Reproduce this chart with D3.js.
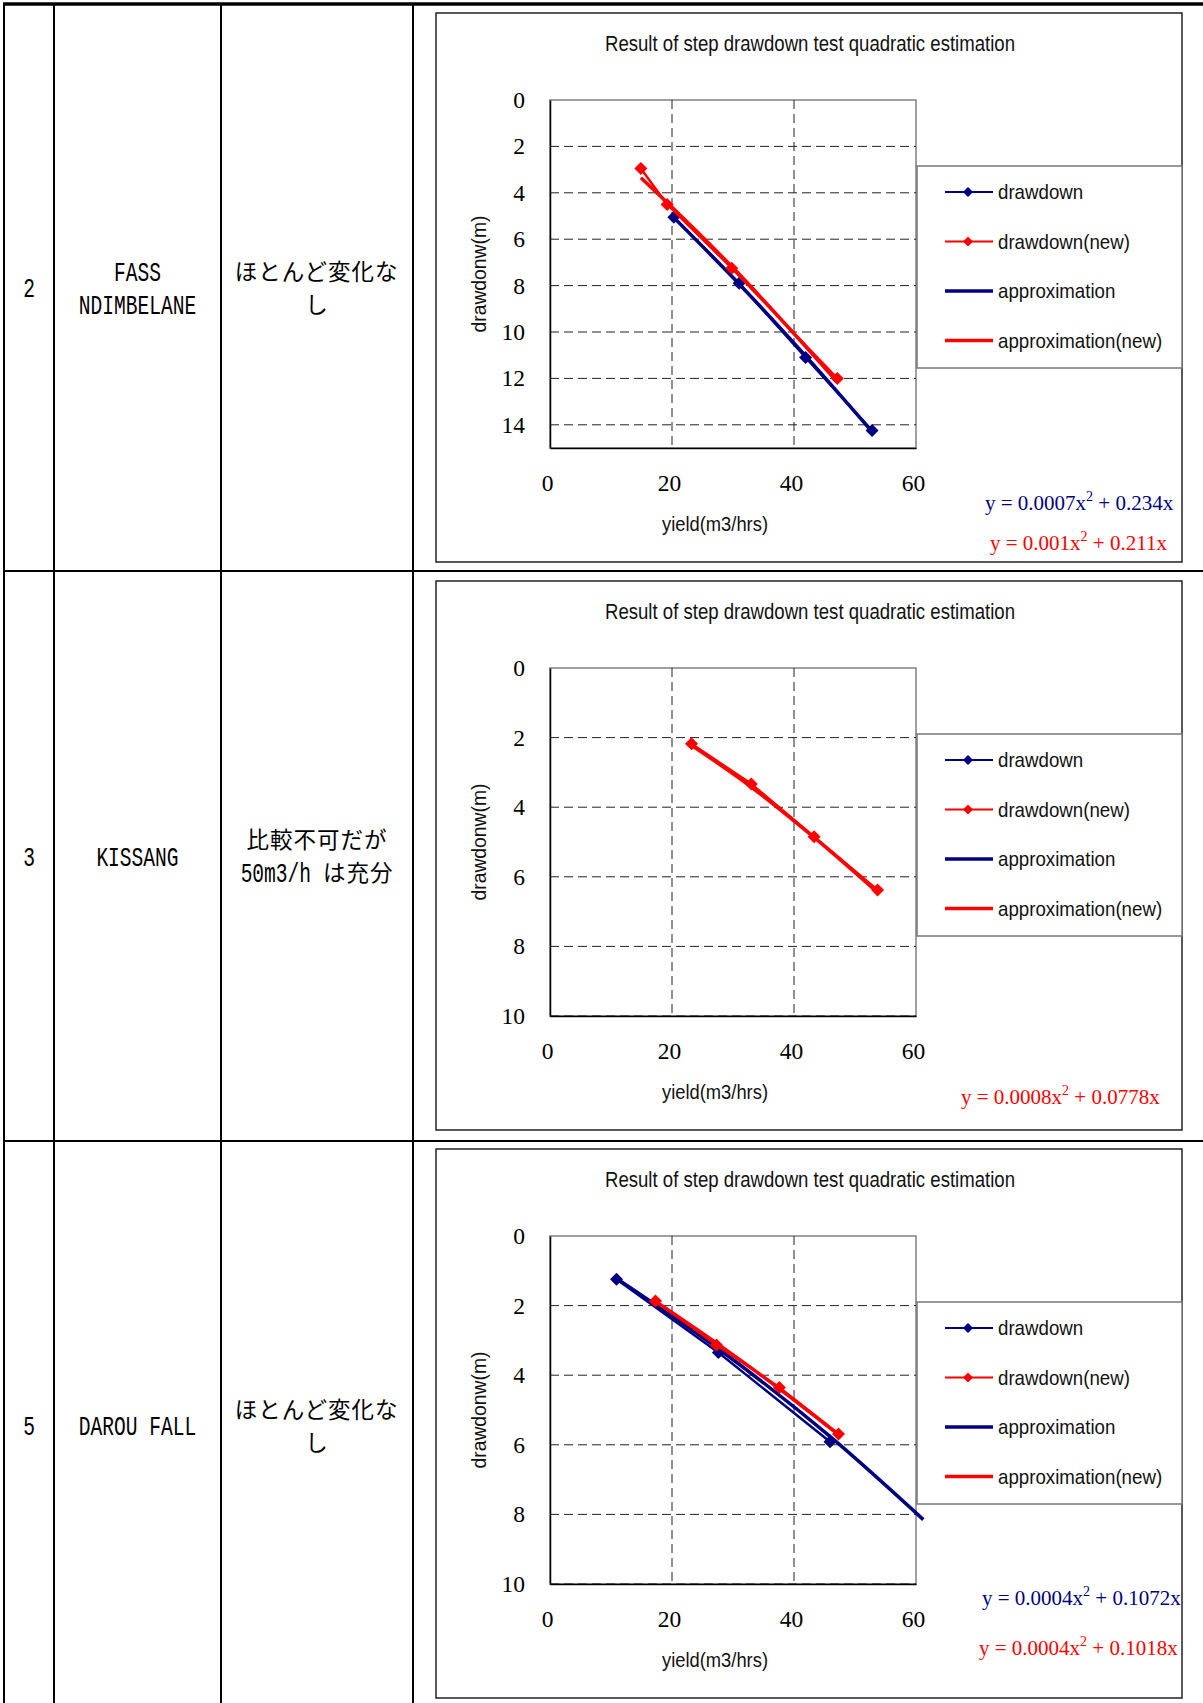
<!DOCTYPE html>
<html>
<head>
<meta charset="utf-8">
<script src="https://cdn.jsdelivr.net/npm/d3@7"></script>
<style>
  body { margin: 0; background: #fff; }
  svg { display: block; }
</style>
</head>
<body>
<div id="canvas"></div>
<script>
// ---- table cells ----
const wellNo = ["2", "3", "5"];
const wellName = [["FASS", "NDIMBELANE"], ["KISSANG"], ["DAROU FALL"]];
const remarks = [["ほとんど変化な", "し"], ["比較不可だが", "50m3/h は充分"], ["ほとんど変化な", "し"]];

// ---- chart common ----
const chartTitle = "Result of step drawdown test quadratic estimation";
const xTitle = "yield(m3/hrs)";
const yTitle = "drawdonw(m)";
const legendNames = ["drawdown", "drawdown(new)", "approximation", "approximation(new)"];
const xTicks = [0, 20, 40, 60];

// ---- FASS NDIMBELANE ----
const fassYield = [20.3, 31.0, 41.9, 52.8];
const fassDrawdown = [5.05, 7.9, 11.1, 14.25];
const fassApprox = [5.07, 7.93, 11.03, 14.3];
const fassYieldNew = [14.9, 19.2, 29.8, 47.1];
const fassDrawdownNew = [2.95, 4.5, 7.25, 12.0];
const fassApproxNew = [3.35, 4.42, 7.18, 12.15];
const fassYTicks = [0, 2, 4, 6, 8, 10, 12, 14];
const fassEquations = [["y = 0.0007x", "2", " + 0.234x"], ["y = 0.001x", "2", " + 0.211x"]];

// ---- KISSANG ----
const kissYieldNew = [23.2, 33.0, 43.3, 53.7];
const kissDrawdownNew = [2.18, 3.33, 4.85, 6.38];
const kissApproxNew = [2.22, 3.42, 4.87, 6.45];
const kissYTicks = [0, 2, 4, 6, 8, 10];
const kissEquations = [["y = 0.0008x", "2", " + 0.0778x"]];

// ---- DAROU FALL ----
const darouYield = [10.9, 27.6, 45.9];
const darouDrawdown = [1.24, 3.35, 5.91];
const darouApproxYield = [10.9, 27.6, 45.9, 61.2];
const darouApprox = [1.22, 3.24, 5.76, 8.15];
const darouYieldNew = [17.3, 27.3, 37.6, 47.3];
const darouDrawdownNew = [1.87, 3.13, 4.35, 5.69];
const darouApproxNew = [1.88, 3.08, 4.39, 5.71];
const darouYTicks = [0, 2, 4, 6, 8, 10];
const darouEquations = [["y = 0.0004x", "2", " + 0.1072x"], ["y = 0.0004x", "2", " + 0.1018x"]];

const NAVY = "#000080", RED = "#ff0000";
const zip = (xs, ys) => xs.map((x, i) => [x, ys[i]]);

const panels = [
  { top: 13, yMax: 15, yTicks: fassYTicks,
    data: zip(fassYield, fassDrawdown), approx: zip(fassYield, fassApprox),
    dataNew: zip(fassYieldNew, fassDrawdownNew), approxNew: zip(fassYieldNew, fassApproxNew),
    eqs: [{ t: fassEquations[0], c: NAVY, x: 549, y: 497 }, { t: fassEquations[1], c: RED, x: 554, y: 537 }] },
  { top: 581, yMax: 10, yTicks: kissYTicks,
    data: [], approx: [],
    dataNew: zip(kissYieldNew, kissDrawdownNew), approxNew: zip(kissYieldNew, kissApproxNew),
    eqs: [{ t: kissEquations[0], c: RED, x: 525, y: 523 }] },
  { top: 1149, yMax: 10, yTicks: darouYTicks,
    data: zip(darouYield, darouDrawdown), approx: zip(darouApproxYield, darouApprox),
    dataNew: zip(darouYieldNew, darouDrawdownNew), approxNew: zip(darouYieldNew, darouApproxNew),
    eqs: [{ t: darouEquations[0], c: NAVY, x: 546, y: 456 }, { t: darouEquations[1], c: RED, x: 543, y: 506 }] }
];

const W = 1203, H = 1703;
const svg = d3.select("#canvas").append("svg").attr("width", W).attr("height", H);

// ---- table grid ----
const colX = [4, 54, 221, 413];
const rowY = [4, 571, 1141, 1710];
const grid = svg.append("g").attr("stroke", "#000");
colX.forEach(x => grid.append("line").attr("x1", x).attr("x2", x).attr("y1", 3).attr("y2", H).attr("stroke-width", 2));
grid.append("line").attr("x1", 3).attr("x2", W).attr("y1", 4).attr("y2", 4).attr("stroke-width", 3.5);
[rowY[1], rowY[2]].forEach(y => grid.append("line").attr("x1", 3).attr("x2", W).attr("y1", y).attr("y2", y).attr("stroke-width", 2));

const HALF = 11.75, FULL = 23.5;
const MONO_SIZE = 28, MONO_ADV = 0.6 * MONO_SIZE;
function cellLine(g, str, cx, cy) {
  const runs = [];
  for (const ch of str) {
    const wide = ch.charCodeAt(0) > 255;
    const last = runs[runs.length - 1];
    if (last && last.wide === wide) last.s += ch; else runs.push({ wide, s: ch });
  }
  const cw = r => r.s.length * (r.wide ? FULL : HALF);
  let x = cx - d3.sum(runs, cw) / 2;
  runs.forEach(r => {
    const s = r.wide ? r.s : r.s.trimEnd();
    if (s.length) {
      if (r.wide) {
        g.append("text").attr("x", x).attr("y", cy + 8.5).text(s)
          .attr("font-family", "'Noto Sans CJK JP', sans-serif").attr("font-size", 22.5)
          .attr("letter-spacing", FULL - 22.5);
      } else {
        g.append("text").attr("transform", `translate(${x},${cy + 9.5}) scale(${HALF / MONO_ADV},1)`)
          .attr("font-family", "'Liberation Mono', monospace").attr("font-size", MONO_SIZE).text(s);
      }
    }
    x += cw(r);
  });
}
function cellText(g, lines, cx, cy) {
  lines.forEach((s, i) => cellLine(g, s, cx, cy + (i - (lines.length - 1) / 2) * 33));
}

const cells = svg.append("g").attr("fill", "#000");
wellNo.forEach((n, i) => {
  const cy = (rowY[i] + rowY[i + 1]) / 2;
  cellText(cells, [n], (colX[0] + colX[1]) / 2, cy);
  cellText(cells, wellName[i], (colX[1] + colX[2]) / 2, cy);
  cellText(cells, remarks[i], (colX[2] + colX[3]) / 2, cy);
});

// ---- charts ----
const PX = 436, PW = 746, PH = 549;
const plotL = 114, plotR = 480, plotT = 87, plotB = 435;
const diamond = r => `M0,${-r}L${r},0L0,${r}L${-r},0Z`;
const SANS = "'Liberation Sans', Arial, sans-serif";
const SERIF = "'Liberation Serif', 'Times New Roman', serif";

function squeeze(sel, factor) {
  sel.each(function () {
    const w = this.getComputedTextLength();
    d3.select(this).attr("textLength", w * factor).attr("lengthAdjust", "spacingAndGlyphs");
  });
}

panels.forEach(p => {
  const g = svg.append("g").attr("transform", `translate(${PX},${p.top})`);
  g.append("rect").attr("width", PW).attr("height", PH)
    .attr("fill", "#fff").attr("stroke", "#222").attr("stroke-width", 1.5);

  const x = d3.scaleLinear().domain([0, 60]).range([plotL, plotR]);
  const y = d3.scaleLinear().domain([0, p.yMax]).range([plotT, plotB]);

  g.append("text").attr("x", 374).attr("y", 38).attr("text-anchor", "middle")
    .attr("font-family", SANS).attr("font-size", 22).attr("fill", "#111")
    .text(chartTitle).attr("textLength", 410).attr("lengthAdjust", "spacingAndGlyphs");

  // plot frame
  g.append("rect").attr("x", plotL).attr("y", plotT).attr("width", plotR - plotL).attr("height", plotB - plotT)
    .attr("fill", "#fff").attr("stroke", "#808080").attr("stroke-width", 1.5);

  // dashed grid
  const gridG = g.append("g").attr("stroke", "#222").attr("stroke-width", 1).attr("stroke-dasharray", "9,5");
  p.yTicks.filter(v => v > 0).forEach(v => gridG.append("line")
    .attr("x1", plotL).attr("x2", plotR).attr("y1", y(v)).attr("y2", y(v)));
  xTicks.filter(v => v > 0 && v < 60).forEach(v => gridG.append("line")
    .attr("x1", x(v)).attr("x2", x(v)).attr("y1", plotT).attr("y2", plotB));

  // axes
  const yAxis = g.append("g").attr("transform", `translate(${plotL},0)`)
    .call(d3.axisLeft(y).tickValues(p.yTicks).tickSize(0).tickSizeOuter(0).tickPadding(25));
  const xAxis = g.append("g").attr("transform", `translate(0,${plotB})`)
    .call(d3.axisBottom(x).tickValues(xTicks).tickSize(0).tickSizeOuter(0).tickPadding(26));
  [yAxis, xAxis].forEach(a => {
    a.attr("font-family", SERIF).attr("font-size", 23.5);
    a.select(".domain").attr("stroke", "#000").attr("stroke-width", 1.5);
    a.selectAll("text").attr("fill", "#000");
  });
  xAxis.selectAll("text").attr("dx", -3);

  g.append("text").attr("x", 279).attr("y", 518).attr("text-anchor", "middle")
    .attr("font-family", SANS).attr("font-size", 21).attr("fill", "#111")
    .text(xTitle).attr("textLength", 106).attr("lengthAdjust", "spacingAndGlyphs");
  g.append("text").attr("transform", "translate(50,261) rotate(-90)").attr("text-anchor", "middle")
    .attr("font-family", SANS).attr("font-size", 21).attr("fill", "#111")
    .text(yTitle).attr("textLength", 117).attr("lengthAdjust", "spacingAndGlyphs");

  // series
  const straight = d3.line().x(d => x(d[0])).y(d => y(d[1]));
  const smooth = d3.line().x(d => x(d[0])).y(d => y(d[1])).curve(d3.curveMonotoneX);
  const series = [
    { pts: p.approx, c: NAVY, w: 3.5, line: smooth },
    { pts: p.approxNew, c: RED, w: 3.5, line: smooth },
    { pts: p.data, c: NAVY, w: 2.5, line: straight, mark: true },
    { pts: p.dataNew, c: RED, w: 2.5, line: straight, mark: true }
  ];
  series.forEach(s => {
    if (!s.pts.length) return;
    g.append("path").attr("d", s.line(s.pts)).attr("fill", "none")
      .attr("stroke", s.c).attr("stroke-width", s.w).attr("stroke-linejoin", "round");
    if (s.mark) g.selectAll(null).data(s.pts).enter().append("path")
      .attr("d", diamond(6.5)).attr("fill", s.c)
      .attr("transform", d => `translate(${x(d[0])},${y(d[1])})`);
  });

  // legend
  const lg = g.append("g").attr("transform", "translate(481,153)");
  lg.append("rect").attr("width", 265).attr("height", 202)
    .attr("fill", "#fff").attr("stroke", "#777").attr("stroke-width", 1.5);
  const lStyle = [{ c: NAVY, w: 1.8, m: true }, { c: RED, w: 1.8, m: true }, { c: NAVY, w: 3.5 }, { c: RED, w: 3.5 }];
  legendNames.forEach((name, i) => {
    const ly = 26 + i * 49.5;
    lg.append("line").attr("x1", 28).attr("x2", 76).attr("y1", ly).attr("y2", ly)
      .attr("stroke", lStyle[i].c).attr("stroke-width", lStyle[i].w);
    if (lStyle[i].m) lg.append("path").attr("d", diamond(5)).attr("fill", lStyle[i].c)
      .attr("transform", `translate(51,${ly})`);
    lg.append("text").attr("x", 81).attr("y", ly + 7).attr("font-family", SANS)
      .attr("font-size", 21).attr("fill", "#111").text(name).call(squeeze, 0.89);
  });

  // equations
  p.eqs.forEach(e => {
    const t = g.append("text").attr("x", e.x).attr("y", e.y)
      .attr("font-family", SERIF).attr("font-size", 21).attr("fill", e.c);
    t.append("tspan").text(e.t[0]);
    t.append("tspan").attr("dy", -9).attr("font-size", 14).text(e.t[1]);
    t.append("tspan").attr("dy", 9).text(e.t[2]);
  });
});
</script>
</body>
</html>
